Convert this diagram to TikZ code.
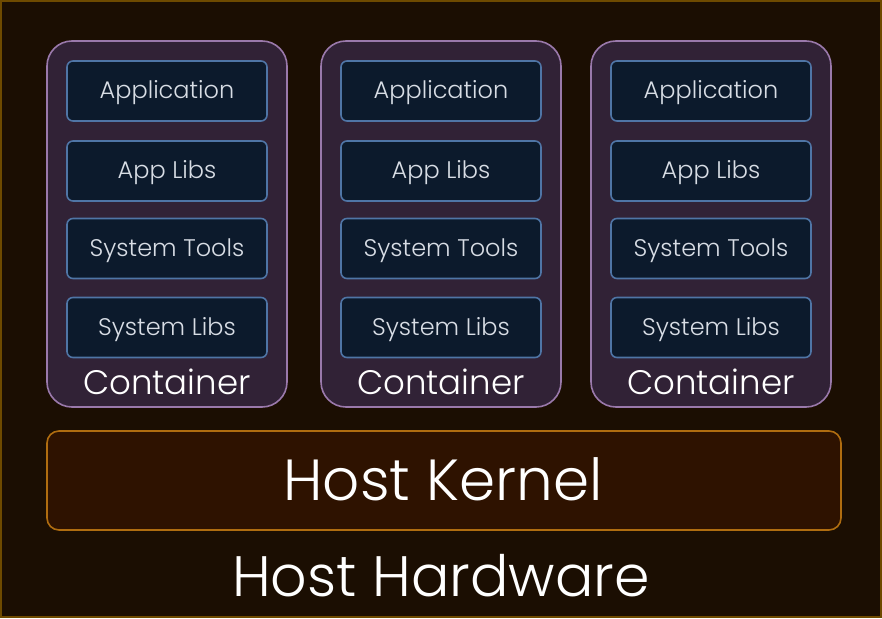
\documentclass[tikz,border=0pt]{standalone}
\usepackage{fontspec}
\setmainfont{Poppins Light}
\definecolor{bgcol}{HTML}{1B0E02}
\definecolor{framecol}{HTML}{6E4A00}
\definecolor{boxfill}{HTML}{312236}
\definecolor{boxline}{HTML}{9A79AB}
\definecolor{libfill}{HTML}{0C1A2C}
\definecolor{libline}{HTML}{4F75A6}
\definecolor{libtext}{HTML}{D8DDE5}
\definecolor{kernfill}{HTML}{2E1200}
\definecolor{kernline}{HTML}{B06D10}
\begin{document}
\begin{tikzpicture}[x=1pt,y=-1pt,
    layer/.style={draw=libline,fill=libfill,line width=1.6pt,rounded corners=6pt,
      minimum width=200pt,minimum height=60pt,inner sep=0pt,text=libtext,
      text height=15pt,text depth=0pt,font=\fontsize{24}{26}\selectfont},
    box/.style={draw=boxline,fill=boxfill,line width=1.6pt,rounded corners=25pt,
      minimum width=240pt,minimum height=366pt,inner sep=0pt},
    bigtext/.style={anchor=base,text=white,inner sep=0pt}]
    \useasboundingbox (0,0) rectangle (882,618);
    \fill[bgcol] (0,0) rectangle (882,618);
    \draw[framecol,line width=2pt] (1,1) rectangle (881,617);
    \foreach \x/\n in {167/a,441/b,711/c} {
        \node[box] (box\n) at (\x,224) {};
        \node[layer] (app\n) at (\x,91) {Application};
        \node[layer] (applibs\n) at (\x,171) {App Libs};
        \node[layer] (systools\n) at (\x,248.5) {System Tools};
        \node[layer] (syslibs\n) at (\x,327.5) {System Libs};
        \node[bigtext,font=\fontsize{34}{36}\selectfont] (label\n) at (\x,394) {Container};
    }
    \node[draw=kernline,fill=kernfill,line width=1.6pt,rounded corners=12pt,
      minimum width=794pt,minimum height=99pt] (kernel) at (444,480.5) {};
    \node[bigtext,font=\fontsize{58}{60}\selectfont] (kerneltext) at (443,500) {Host Kernel};
    \node[bigtext,font=\fontsize{57}{60}\selectfont] (hardware) at (441,596) {Host Hardware};
\end{tikzpicture}
\end{document}
